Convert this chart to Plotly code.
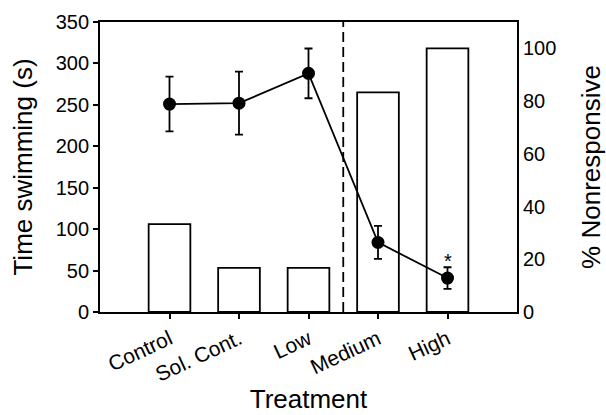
import plotly.graph_objects as go

categories = ["Control", "Sol. Cont.", "Low", "Medium", "High"]
x_pos = [1, 2, 3, 4, 5]
time_swimming = [251, 252, 288, 84, 41]
time_se = [33, 38, 30, 20, 13]
pct_nonresponsive = [33.3, 16.7, 16.7, 83.3, 100]

FONT = "Liberation Sans, Arial, sans-serif"

fig = go.Figure()
fig.add_trace(go.Bar(
    x=x_pos, y=pct_nonresponsive, width=0.6,
    marker=dict(color="white", line=dict(color="black", width=1.8)),
    yaxis="y", showlegend=False,
))
fig.add_trace(go.Scatter(
    x=x_pos, y=time_swimming, mode="lines+markers",
    line=dict(color="black", width=1.8),
    marker=dict(color="black", size=13),
    error_y=dict(type="data", array=time_se, color="black", thickness=1.8, width=4),
    yaxis="y2", showlegend=False,
))

fig.add_shape(type="line", x0=3.5, x1=3.5, y0=0, y1=1, xref="x", yref="paper",
              line=dict(color="black", width=1.8, dash="10px,5px"))
fig.add_annotation(x=5, y=time_swimming[4] + time_se[4], xref="x", yref="y2",
                   text="*", showarrow=False, yanchor="bottom", yshift=-7,
                   font=dict(size=20, color="black", family=FONT))

fig.update_layout(
    width=606, height=415,
    margin=dict(l=100, r=89, t=22, b=103),
    paper_bgcolor="white", plot_bgcolor="white",
    font=dict(family=FONT, color="black", size=20),
    xaxis=dict(
        range=[0, 6], tickvals=x_pos, ticktext=categories, tickangle=-25,
        ticks="outside", ticklen=5, tickwidth=1.8, tickcolor="black",
        showline=True, linecolor="black", linewidth=1.8, mirror=True,
        showgrid=False, zeroline=False, automargin=False,
        tickfont=dict(size=21),
        title=dict(text="Treatment", font=dict(size=26), standoff=5),
    ),
    yaxis=dict(
        side="right", range=[0, 110], tickvals=[0, 20, 40, 60, 80, 100],
        ticks="", showline=True, linecolor="black", linewidth=1.8,
        showgrid=False, zeroline=False, tickfont=dict(size=20), automargin=False,
        title=dict(text="% Nonresponsive", font=dict(size=26), standoff=33),
    ),
    yaxis2=dict(
        overlaying="y", side="left", range=[0, 350],
        tickvals=[0, 50, 100, 150, 200, 250, 300, 350],
        ticks="outside", ticklen=5, tickwidth=1.8, tickcolor="black",
        showline=True, linecolor="black", linewidth=1.8,
        showgrid=False, zeroline=False, tickfont=dict(size=20), automargin=False,
        title=dict(text="Time swimming (s)", font=dict(size=26), standoff=16),
    ),
)

fig.write_html("out.html")
